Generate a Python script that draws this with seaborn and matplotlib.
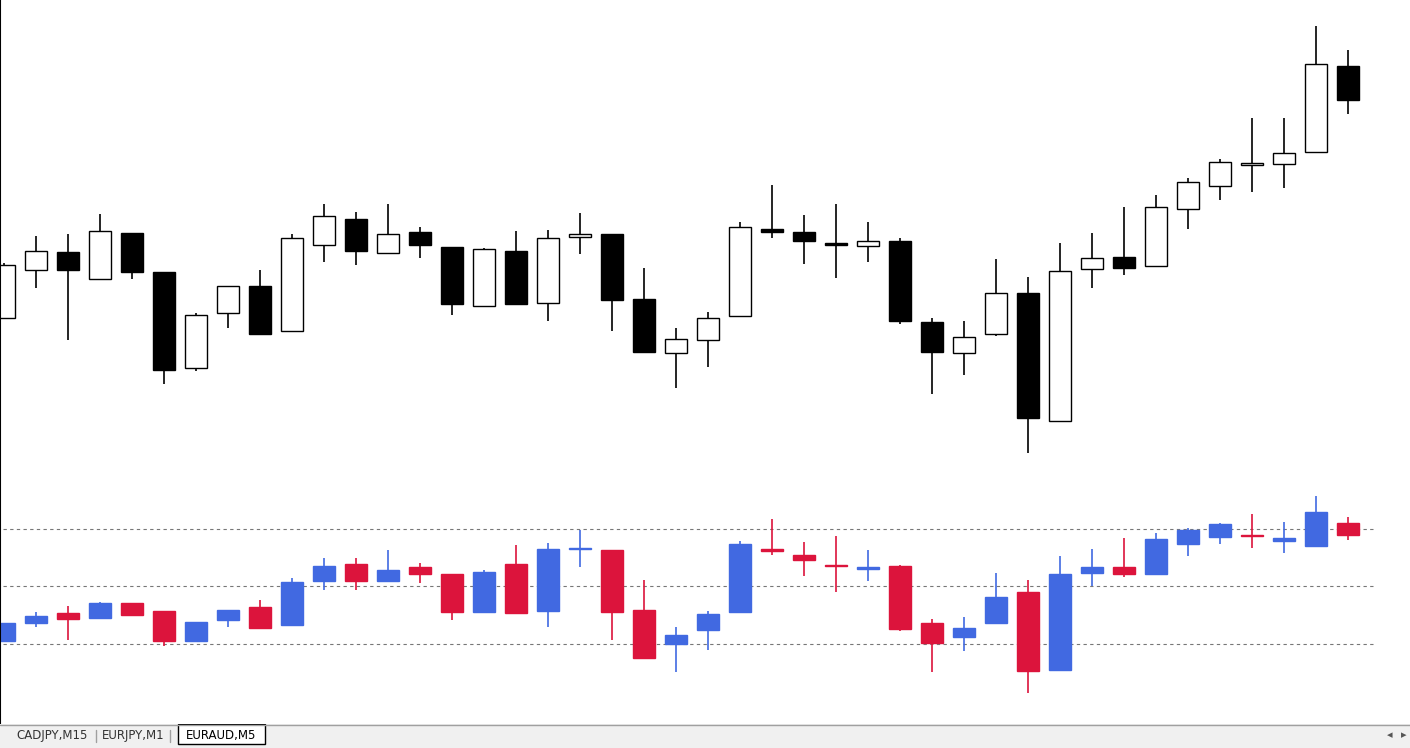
import numpy as np
import pandas as pd
import matplotlib
matplotlib.use("Agg")
import matplotlib.pyplot as plt
import seaborn as sns
from matplotlib.patches import Rectangle

sns.set_style("white")
plt.rcParams['font.family'] = ['DejaVu Sans']

# upper pane (price units)
top_open  = [682, 730, 748, 721, 767, 728, 632, 687, 714, 669, 755, 781, 747, 768, 753, 694, 749, 697, 763, 766, 701, 647, 660, 684, 771, 768, 757, 754, 759, 678, 647, 666, 707, 579, 731, 743, 734, 791, 814, 835, 836, 848, 934]
top_close = [735, 749, 730, 769, 728, 630, 685, 714, 666, 762, 784, 749, 766, 755, 696, 751, 696, 762, 766, 700, 648, 661, 682, 773, 768, 759, 755, 759, 679, 648, 663, 707, 582, 729, 742, 732, 793, 818, 838, 837, 847, 936, 900]
top_high  = [737, 764, 766, 786, 767, 728, 687, 714, 730, 766, 796, 788, 796, 773, 753, 752, 769, 770, 787, 766, 732, 672, 688, 778, 815, 785, 796, 778, 762, 682, 679, 741, 723, 757, 767, 793, 805, 822, 841, 882, 882, 974, 950]
top_low   = [682, 712, 660, 720, 721, 616, 629, 672, 665, 669, 738, 735, 747, 742, 685, 694, 696, 679, 746, 669, 648, 612, 633, 684, 762, 736, 722, 738, 676, 606, 625, 664, 547, 579, 712, 725, 734, 771, 800, 808, 812, 848, 886]

# lower pane
bot_open  = [359, 377, 387, 382, 397, 389, 359, 380, 393, 375, 419, 436, 419, 433, 426, 388, 436, 389, 451, 450, 390, 356, 370, 388, 451, 445, 435, 431, 434, 377, 363, 377, 408, 330, 427, 433, 426, 456, 463, 465, 459, 454, 477]
bot_close = [377, 384, 381, 397, 385, 359, 378, 390, 372, 418, 434, 419, 430, 426, 388, 428, 387, 451, 452, 388, 342, 365, 386, 456, 449, 440, 434, 433, 371, 357, 372, 403, 329, 426, 433, 426, 461, 470, 476, 464, 462, 488, 465]
bot_high  = [377, 388, 394, 398, 397, 389, 378, 390, 400, 422, 442, 442, 450, 437, 426, 430, 455, 457, 470, 450, 420, 373, 389, 459, 481, 458, 464, 450, 435, 381, 383, 427, 420, 444, 451, 462, 467, 472, 477, 486, 478, 504, 483]
bot_low   = [359, 373, 360, 382, 385, 354, 359, 373, 372, 375, 410, 410, 419, 417, 380, 388, 387, 373, 433, 360, 342, 328, 350, 388, 445, 424, 408, 419, 369, 328, 349, 377, 307, 330, 414, 423, 426, 444, 456, 452, 447, 454, 460]

levels = [471, 414, 356]
tabs = ["CADJPY,M15", "EURJPY,M1", "EURAUD,M5"]

W, H = 1410, 748
fig = plt.figure(figsize=(W / 100, H / 100), dpi=100)
fig.patch.set_facecolor("white")

def pane(y0, y1):
    ax = fig.add_axes([0, 1 - y1 / H, 1, (y1 - y0) / H])
    ax.set_xlim(-4 / 32, (W - 4) / 32)
    ax.set_ylim(1000 - y1, 1000 - y0)
    ax.axis("off")
    return ax

def candles(ax, o, c, h, l, up, down, edge=None):
    df = pd.DataFrame({"o": o, "c": c, "h": h, "l": l})
    x = np.arange(len(df))
    bull = df.c >= df.o
    cols = np.where(bull, up, down)
    wick = [edge] * len(df) if edge else cols
    ax.vlines(x, df.l, df.h, colors=wick, lw=1.2, zorder=1)
    lo = np.minimum(df.o, df.c)
    hi = np.maximum(df.o, df.c)
    ax.bar(x, np.maximum(hi - lo, 1.5), bottom=lo, width=0.68, color=cols,
           edgecolor=wick if edge else cols, lw=1, zorder=2)

ax1 = pane(0, 480)
candles(ax1, top_open, top_close, top_high, top_low, "white", "black", edge="black")
ax1.axvline(-4 / 32, color="black", lw=1.5)

ax2 = pane(480, 724)
for lv in levels:
    ax2.hlines(lv, -4 / 32 + 0.1, (1375 - 4) / 32, colors="#777777", lw=0.8, linestyles=(0, (3, 3)), zorder=0)
candles(ax2, bot_open, bot_close, bot_high, bot_low, "#4169E1", "#DC143C")
ax2.axvline(-4 / 32, color="black", lw=1.5)

# tab bar
bar = fig.add_axes([0, 0, 1, 24 / H])
bar.set_xlim(0, W)
bar.set_ylim(0, 24)
bar.axis("off")
bar.add_patch(Rectangle((0, 0), W, 24, facecolor="#f0f0f0", edgecolor="none"))
bar.axhline(23.5, color="#a0a0a0", lw=1)
bar.add_patch(Rectangle((178, 4), 87, 20, facecolor="white", edgecolor="black", lw=1))
for t, x in zip(tabs, [52, 133, 221]):
    bar.text(x, 12, t, ha="center", va="center", fontsize=8.5, color="#333333" if x != 221 else "black")
for x in [96, 170]:
    bar.plot([x, x], [6, 18], color="#a0a0a0", lw=1)
bar.text(1390, 13, "◂", ha="center", va="center", fontsize=8, color="#555555")
bar.text(1404, 13, "▸", ha="center", va="center", fontsize=8, color="#555555")

fig.savefig("out.png", dpi=100, facecolor="white")
